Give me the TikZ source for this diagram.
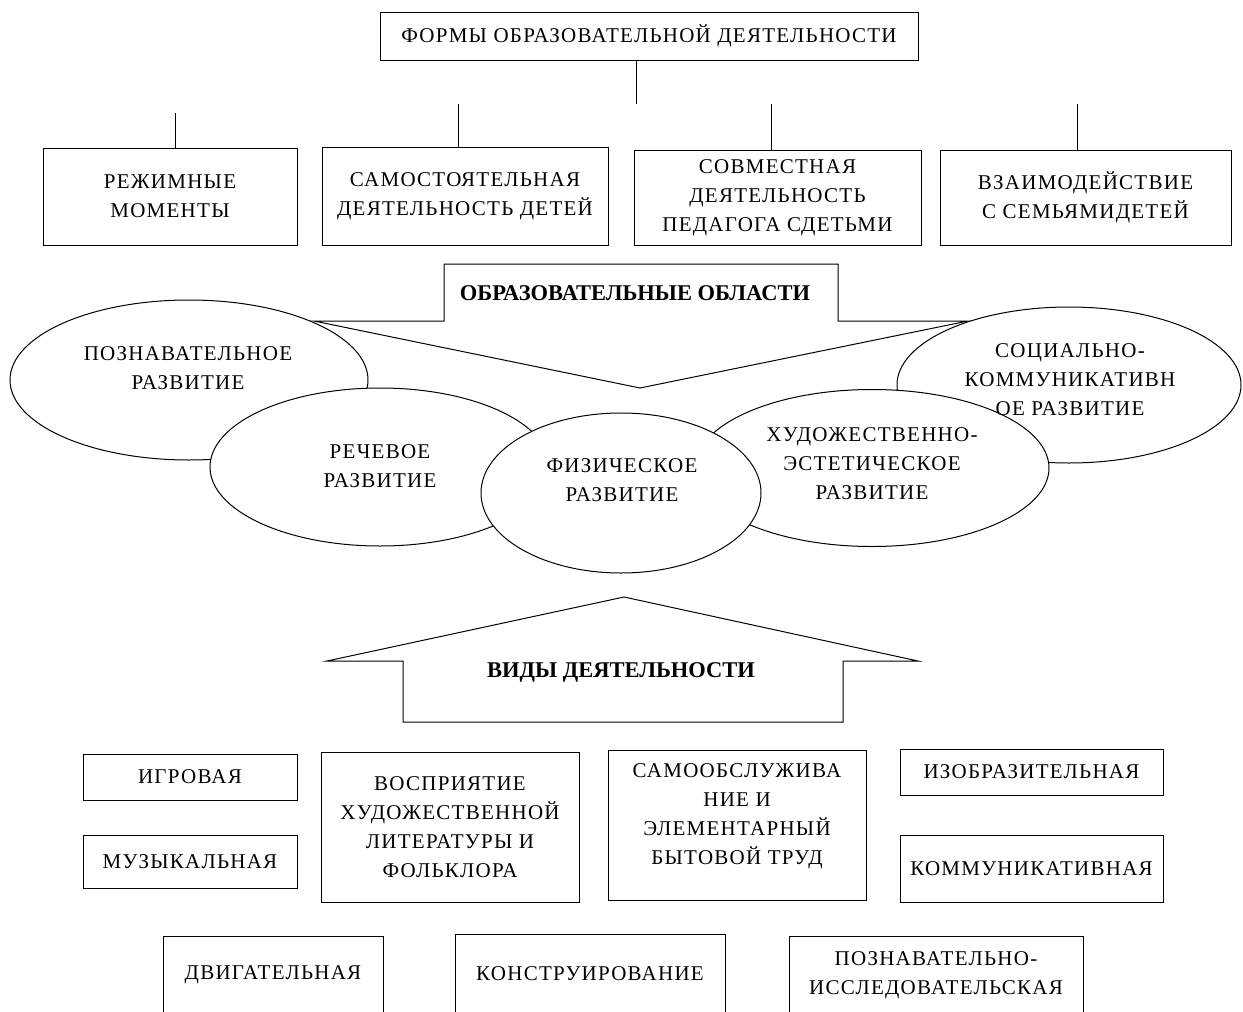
\documentclass[tikz,border=0pt]{standalone}
\usepackage{fontspec}
\setmainfont{Liberation Serif}
\newfontfamily\spacedfont[LetterSpace=6]{Liberation Serif}
\usetikzlibrary{shapes.geometric}
\begin{document}
\begin{tikzpicture}[x=1pt,y=-1pt,line width=1pt,
  txt/.style={font=\spacedfont\fontsize{21}{29}\selectfont, align=center, inner sep=0pt},
  box/.style={txt, draw, rectangle},
  oval/.style={draw, ellipse, fill=white, inner sep=0pt},
  bold/.style={font=\bfseries\fontsize{22.5}{26}\selectfont, inner sep=0pt},
  bigarrow/.style={draw, fill=white, line join=miter}]
\useasboundingbox (0,0) rectangle (1243,1012);
\clip (0,0) rectangle (1243,1012);

% top
\node[box, minimum width=538pt, minimum height=48pt] (top) at (649,36) {ФОРМЫ ОБРАЗОВАТЕЛЬНОЙ ДЕЯТЕЛЬНОСТИ};
\coordinate (t0) at (636,104);
\draw (t0 |- top.south) -- (t0);

\node[box, minimum width=254pt, minimum height=97pt] (b1) at (170,196.5) {РЕЖИМНЫЕ\\МОМЕНТЫ};
\node[box, minimum width=286pt, minimum height=98pt] (b2) at (465,196) {САМОСТОЯТЕЛЬНАЯ\\ДЕЯТЕЛЬНОСТЬ ДЕТЕЙ};
\node[box, minimum width=287pt, minimum height=95pt] (b3) at (777.5,197.5) {СОВМЕСТНАЯ\\ДЕЯТЕЛЬНОСТЬ\\ПЕДАГОГА СДЕТЬМИ};
\node[box, minimum width=291pt, minimum height=95pt] (b4) at (1085.5,197.5) {ВЗАИМОДЕЙСТВИЕ\\С СЕМЬЯМИДЕТЕЙ};

\coordinate (s1) at (175,113);
\coordinate (s2) at (458,104);
\coordinate (s3) at (771,104);
\coordinate (s4) at (1077,104);
\draw (s1) -- (s1 |- b1.north);
\draw (s2) -- (s2 |- b2.north);
\draw (s3) -- (s3 |- b3.north);
\draw (s4) -- (s4 |- b4.north);

% down arrow
\draw[bigarrow] (444,264) -- (838,264) -- (838,321) -- (968,321) -- (640,388) -- (314,321) -- (444,321) -- cycle;

% ellipses
\node[oval, minimum width=358pt, minimum height=160pt] (pozn) at (189,380) {};
\node[oval, minimum width=340pt, minimum height=158pt] (rech) at (380,467) {};
\node[oval, minimum width=344pt, minimum height=156pt] (soc) at (1069,385) {};
\node[oval, minimum width=354pt, minimum height=157pt] (hud) at (872,468) {};
\node[oval, minimum width=280pt, minimum height=160pt] (fiz) at (621,493) {};

\node[bold] (oblast) at (635,293) {ОБРАЗОВАТЕЛЬНЫЕ ОБЛАСТИ};
\node[txt] (poznt) at (188,368) {ПОЗНАВАТЕЛЬНОЕ\\РАЗВИТИЕ};
\node[txt] (recht) at (380,466) {РЕЧЕВОЕ\\РАЗВИТИЕ};
\node[txt] (fizt) at (622,480) {ФИЗИЧЕСКОЕ\\РАЗВИТИЕ};
\node[txt] (hudt) at (872,464) {ХУДОЖЕСТВЕННО-\\ЭСТЕТИЧЕСКОЕ\\РАЗВИТИЕ};
\node[txt] (soct) at (1070,380) {СОЦИАЛЬНО-\\КОММУНИКАТИВН\\ОЕ РАЗВИТИЕ};

% up arrow
\draw[bigarrow] (624,597) -- (918,661) -- (843,661) -- (843,722) -- (403,722) -- (403,661) -- (327,661) -- cycle;
\node[bold] (vidy) at (621,672) {ВИДЫ ДЕЯТЕЛЬНОСТИ};

% bottom boxes
\node[box, minimum width=214pt, minimum height=46pt] (igr) at (190,777) {ИГРОВАЯ};
\node[box, minimum width=214pt, minimum height=53pt] (muz) at (190,861.5) {МУЗЫКАЛЬНАЯ};
\node[box, minimum width=258pt, minimum height=150pt] (vosp) at (450,827) {ВОСПРИЯТИЕ\\ХУДОЖЕСТВЕННОЙ\\ЛИТЕРАТУРЫ И\\ФОЛЬКЛОРА};
\node[box, minimum width=258pt, minimum height=150pt] (samo) at (737,825) {САМООБСЛУЖИВА\\НИЕ И\\ЭЛЕМЕНТАРНЫЙ\\БЫТОВОЙ ТРУД\\[-7pt]\mbox{}};
\node[box, minimum width=263pt, minimum height=46pt] (izo) at (1031.5,772) {ИЗОБРАЗИТЕЛЬНАЯ};
\node[box, minimum width=263pt, minimum height=67pt] (komm) at (1031.5,868.5) {КОММУНИКАТИВНАЯ};
\node[box, minimum width=220pt, minimum height=78pt] (dvig) at (273,975) {ДВИГАТЕЛЬНАЯ};
\node[box, minimum width=270pt, minimum height=80pt] (konst) at (590,974) {КОНСТРУИРОВАНИЕ};
\node[box, minimum width=294pt, minimum height=78pt] (pi) at (936,975) {ПОЗНАВАТЕЛЬНО-\\ИССЛЕДОВАТЕЛЬСКАЯ};
\end{tikzpicture}
\end{document}
